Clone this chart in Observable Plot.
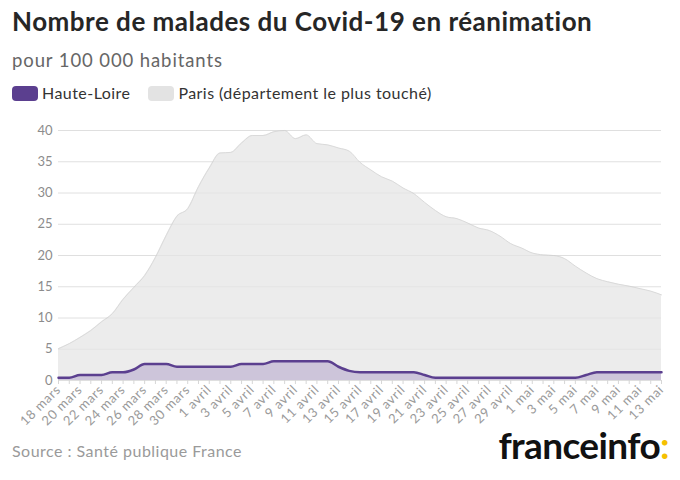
<!DOCTYPE html>
<html>
<head>
<meta charset="utf-8">
<script src="https://cdn.jsdelivr.net/npm/d3@7"></script>
<script src="https://cdn.jsdelivr.net/npm/@observablehq/plot@0.6"></script>
<style>
  html, body { margin: 0; padding: 0; background: #fff; }
  body { width: 680px; height: 480px; position: relative; overflow: hidden; font-family: Lato, "Noto Sans", sans-serif; }
  #title { position: absolute; left: 12px; top: 5px; font-size: 26px; font-weight: 700; color: #262626; line-height: 32px; white-space: nowrap; letter-spacing: 0.5px; }
  #subtitle { position: absolute; left: 12px; top: 48px; font-size: 18.5px; color: #666; line-height: 24px; letter-spacing: 0.9px; }
  #legend { position: absolute; left: 12px; top: 82px; font-size: 16px; color: #333; line-height: 22px; display: flex; align-items: center; letter-spacing: 0.45px; }
  .sw { display: inline-block; width: 26px; height: 15px; border-radius: 4px; margin-right: 4px; }
  .item { display: flex; align-items: center; margin-right: 18px; }
  #chart { position: absolute; left: 0; top: 110px; }
  #chart g[aria-label="x-axis tick label"] text { letter-spacing: 0.7px; }
  #source { position: absolute; left: 12px; top: 440px; font-size: 16px; color: #9a9a9a; line-height: 22px; letter-spacing: 0.48px; }
  #logo { position: absolute; right: 11px; top: 424px; font-size: 37px; font-weight: 700; color: #111; letter-spacing: -0.6px; line-height: 42px; }
  #logo span { color: #f5c000; }
</style>
</head>
<body>
<div id="title">Nombre de malades du Covid-19 en réanimation</div>
<div id="subtitle">pour 100 000 habitants</div>
<div id="legend"></div>
<div id="chart"></div>
<div id="source">Source : Santé publique France</div>
<div id="logo">franceinfo<span>:</span></div>
<script>
const dates = [
  "2020-03-18","2020-03-19","2020-03-20","2020-03-21","2020-03-22","2020-03-23","2020-03-24","2020-03-25",
  "2020-03-26","2020-03-27","2020-03-28","2020-03-29","2020-03-30","2020-03-31","2020-04-01","2020-04-02",
  "2020-04-03","2020-04-04","2020-04-05","2020-04-06","2020-04-07","2020-04-08","2020-04-09","2020-04-10",
  "2020-04-11","2020-04-12","2020-04-13","2020-04-14","2020-04-15","2020-04-16","2020-04-17","2020-04-18",
  "2020-04-19","2020-04-20","2020-04-21","2020-04-22","2020-04-23","2020-04-24","2020-04-25","2020-04-26",
  "2020-04-27","2020-04-28","2020-04-29","2020-04-30","2020-05-01","2020-05-02","2020-05-03","2020-05-04",
  "2020-05-05","2020-05-06","2020-05-07","2020-05-08","2020-05-09","2020-05-10","2020-05-11","2020-05-12",
  "2020-05-13"
];
const paris = [
  5.1, 5.9, 6.9, 8.0, 9.4, 10.7, 13.0, 14.9, 16.8, 19.7,
  23.2, 26.3, 27.5, 31.0, 34.0, 36.4, 36.5, 38.0, 39.2, 39.2,
  39.8, 40.0, 38.7, 39.3, 37.9, 37.7, 37.2, 36.7, 34.9, 33.7,
  32.6, 31.9, 30.8, 29.9, 28.5, 27.2, 26.2, 25.9, 25.2, 24.4,
  24.0, 23.1, 21.9, 21.2, 20.4, 20.1, 20.0, 19.5, 18.3, 17.2,
  16.3, 15.8, 15.4, 15.1, 14.7, 14.3, 13.7
];
const hauteLoire = [
  0.44, 0.44, 0.88, 0.88, 0.88, 1.32, 1.32, 1.76, 2.64, 2.64,
  2.64, 2.2, 2.2, 2.2, 2.2, 2.2, 2.2, 2.64, 2.64, 2.64,
  3.08, 3.08, 3.08, 3.08, 3.08, 3.08, 2.2, 1.54, 1.32, 1.32,
  1.32, 1.32, 1.32, 1.32, 0.88, 0.44, 0.44, 0.44, 0.44, 0.44,
  0.44, 0.44, 0.44, 0.44, 0.44, 0.44, 0.44, 0.44, 0.44, 0.88,
  1.32, 1.32, 1.32, 1.32, 1.32, 1.32, 1.32
];
const seriesNames = ["Haute-Loire", "Paris (département le plus touché)"];
const seriesColors = ["#5b3f8f", "#e3e3e3"];
const yTicks = [0, 5, 10, 15, 20, 25, 30, 35, 40];
const monthNames = ["janv.", "févr.", "mars", "avril", "mai", "juin", "juil.", "août", "sept.", "oct.", "nov.", "déc."];

const parse = d3.utcParse("%Y-%m-%d");
const data = dates.map((d, i) => ({date: parse(d), paris: paris[i], hl: hauteLoire[i]}));
const labelDates = data.filter((d, i) => i % 2 === 0).map(d => d.date);
const allDates = data.map(d => d.date);
const fmt = d => `${d.getUTCDate()} ${monthNames[d.getUTCMonth()]}`;

// legend
const legend = document.getElementById("legend");
seriesNames.forEach((name, i) => {
  const item = document.createElement("div");
  item.className = "item";
  const sw = document.createElement("span");
  sw.className = "sw";
  sw.style.background = seriesColors[i];
  item.appendChild(sw);
  item.appendChild(document.createTextNode(name));
  legend.appendChild(item);
});

const chart = Plot.plot({
  width: 680,
  height: 330,
  marginTop: 20,
  marginBottom: 60,
  marginLeft: 58,
  marginRight: 19,
  style: {fontFamily: "Lato, sans-serif", fontSize: "13px", background: "transparent", color: "#999"},
  x: {type: "utc", domain: [allDates[0], allDates[allDates.length - 1]]},
  y: {domain: [0, 40]},
  marks: [
    Plot.ruleY(yTicks, {stroke: "#e8e8e8", strokeWidth: 1}),
    Plot.areaY(data, {x: "date", y: "paris", fill: "#ececec", curve: "monotone-x"}),
    Plot.lineY(data, {x: "date", y: "paris", stroke: "#dadada", strokeWidth: 1, curve: "monotone-x"}),
    Plot.areaY(data, {x: "date", y: "hl", fill: "#cdc5da", curve: "monotone-x"}),
    Plot.ruleY(yTicks, {stroke: "#000", strokeOpacity: 0.035, strokeWidth: 1}),
    Plot.lineY(data, {x: "date", y: "hl", stroke: "#5b3f8f", strokeWidth: 2.5, curve: "monotone-x"}),
    Plot.axisY({ticks: yTicks, tickSize: 0, tickPadding: 6, fill: "#8c8c8c", label: null}),
    Plot.axisX({ticks: allDates, tickFormat: () => "", tickSize: 4, stroke: "#d6d6d6", label: null}),
    Plot.axisX({ticks: labelDates, tickFormat: fmt, tickRotate: -45, tickSize: 0, tickPadding: 7, fill: "#9a9a9a", label: null})
  ]
});
document.getElementById("chart").appendChild(chart);
</script>
</body>
</html>
